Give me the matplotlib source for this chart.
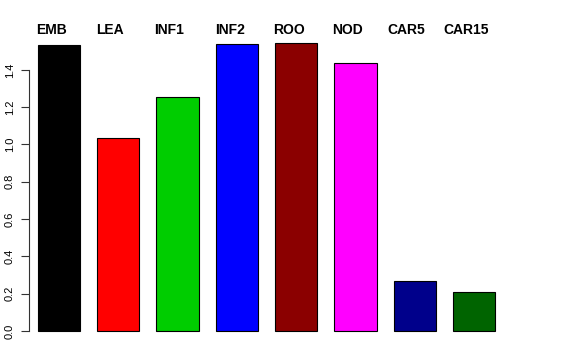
import matplotlib
matplotlib.use("Agg")
import matplotlib.pyplot as plt
import numpy as np

plt.rcParams['font.family'] = ['Liberation Sans', 'DejaVu Sans']

categories = ["EMB", "LEA", "INF1", "INF2", "ROO", "NOD", "CAR5", "CAR15"]
values = [1.533, 1.035, 1.255, 1.539, 1.544, 1.437, 0.268, 0.209]
colors = ["#000000", "#FF0000", "#00CD00", "#0000FF", "#8B0000", "#FF00FF", "#00008B", "#006400"]
yticks = [0.0, 0.2, 0.4, 0.6, 0.8, 1.0, 1.2, 1.4]

W, H = 576, 360
fig = plt.figure(figsize=(W / 100, H / 100), dpi=100)

unit = 42.36  # px per data unit
ax_left_px, ax_right_px = 29, 549
ax_top_px, ax_bot_px = 31.5, 342.5
ax = fig.add_axes([ax_left_px / W, (H - ax_bot_px) / H,
                   (ax_right_px - ax_left_px) / W, (ax_bot_px - ax_top_px) / H])

x0 = 0.4 - (37.7 - ax_left_px) / unit
ax.set_xlim(x0, x0 + (ax_right_px - ax_left_px) / unit)
ymax = max(values)
ax.set_ylim(-0.04 * ymax, ymax * 1.04)

lefts = 0.4 + 1.4 * np.arange(len(values))
ax.bar(lefts, values, width=1.0, align='edge', color=colors,
       edgecolor='black', linewidth=0.8)

# labels above the bars
label_px = [36, 96, 154, 215, 273, 332, 387, 443]
px_per_y = (ax_bot_px - ax_top_px) / (ymax * 1.08)
y_label = (331 - 34) / px_per_y
for lab, px in zip(categories, label_px):
    xd = x0 + (px - ax_left_px) / unit
    ax.text(xd, y_label, lab, ha='left', va='baseline',
            fontsize=10, fontweight='bold', clip_on=False)

for s in ['top', 'right', 'bottom']:
    ax.spines[s].set_visible(False)
ax.spines['left'].set_bounds(0, 1.4)
ax.spines['left'].set_linewidth(0.8)
ax.spines['left'].set_color('#333333')
ax.set_xticks([])
ax.set_yticks(yticks)
ax.set_yticklabels([f"{v:.1f}" for v in yticks], rotation=90, va='center', fontsize=8)
ax.tick_params(axis='y', length=5.5, width=0.8, pad=4.5, color='#333333')

fig.savefig("out.png", dpi=100)
